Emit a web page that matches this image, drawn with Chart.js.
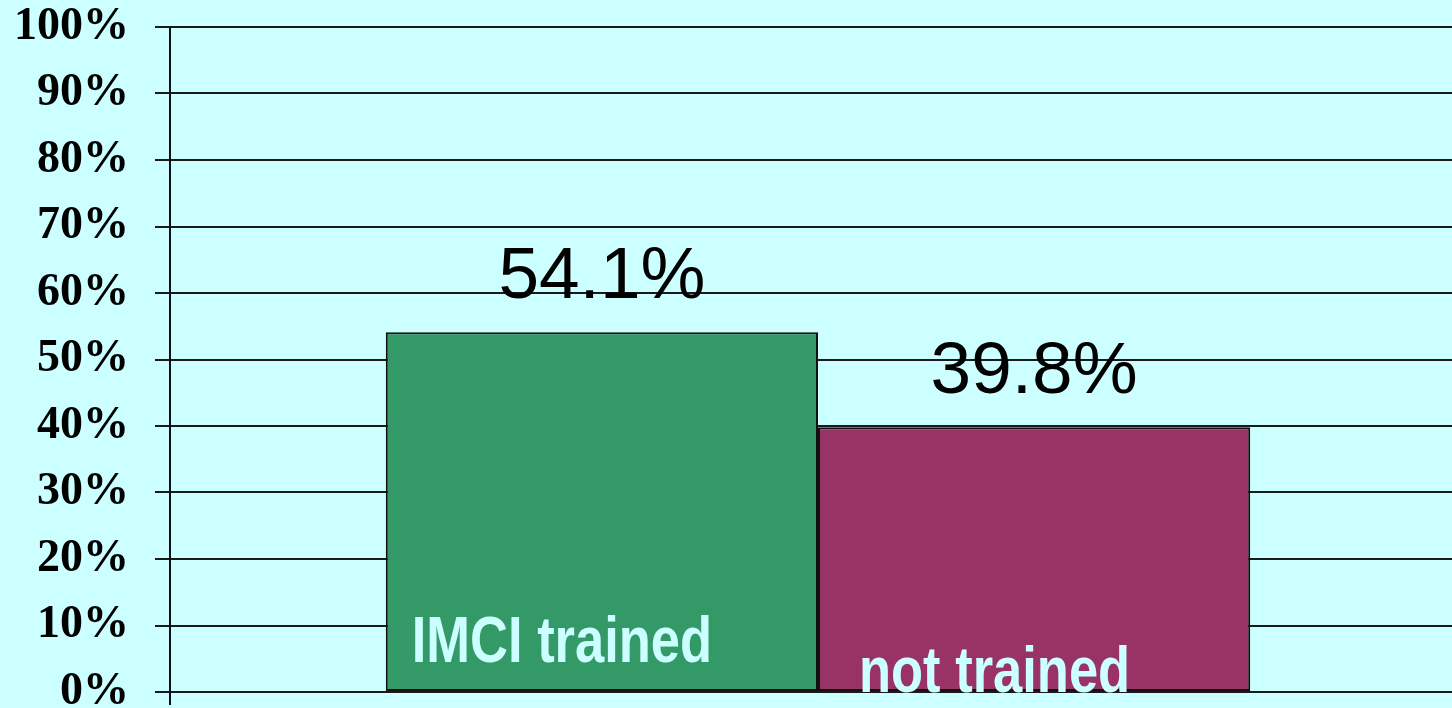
<!DOCTYPE html>
<html>
<head>
<meta charset="utf-8">
<script src="https://cdn.jsdelivr.net/npm/chart.js@4/dist/chart.umd.min.js"></script>
<style>
  html, body { margin: 0; padding: 0; background: #CCFFFF; }
  #wrap { width: 1452px; height: 708px; }
</style>
</head>
<body>
<div id="wrap"><canvas id="imciChart"></canvas></div>
<script>
// data
const categories = [""];
const seriesNames = ["IMCI trained", "not trained"];
const seriesValues = [54.1, 39.8];
const seriesColors = ["#339966", "#993366"];
const tickLabels = ["0%", "10%", "20%", "30%", "40%", "50%", "60%", "70%", "80%", "90%", "100%"];

const datasets = seriesNames.map((name, i) => ({
    label: name,
    data: [seriesValues[i]],
    backgroundColor: seriesColors[i],
    borderColor: "#111111",
    borderWidth: 2,
    borderSkipped: false,
    categoryPercentage: 0.667,
    barPercentage: 1.0,
}));

// value above each bar + the name written inside each bar
const barTextPlugin = {
    id: "barText",
    afterLayout(chart) {
        // the bar group sits a bit right of the plot centre in the original
        const x = chart.scales.x;
        x.right = chart.chartArea.right + 14;
        x.width = x.right - x.left;
        x.configure();
    },
    afterDatasetsDraw(chart) {
        const ctx = chart.ctx;
        const nameOffsets = [26, 41];
        const nameBaselines = [662, 692];
        chart.data.datasets.forEach((ds, i) => {
            const bar = chart.getDatasetMeta(i).data[0];
            const left = bar.x - bar.width / 2;
            ctx.save();
            ctx.fillStyle = "#000000";
            ctx.font = "73px 'Liberation Sans', Arial, sans-serif";
            ctx.textAlign = "center";
            ctx.textBaseline = "alphabetic";
            ctx.fillText(ds.data[0].toFixed(1) + "%", bar.x, bar.y - 34);
            ctx.restore();

            // narrow bold label
            ctx.save();
            ctx.fillStyle = "#CCFFFF";
            ctx.font = "bold 64px 'Liberation Sans', Arial, sans-serif";
            ctx.textAlign = "left";
            ctx.textBaseline = "alphabetic";
            ctx.translate(left + nameOffsets[i], nameBaselines[i]);
            ctx.scale(0.82, 1);
            ctx.fillText(ds.label, 0, 0);
            ctx.restore();
        });
        // axis line runs a little below the baseline
        const area = chart.chartArea;
        ctx.save();
        ctx.strokeStyle = "#111111";
        ctx.lineWidth = 2;
        ctx.beginPath();
        ctx.moveTo(area.left, area.bottom);
        ctx.lineTo(area.left, area.bottom + 13);
        ctx.stroke();
        ctx.restore();
    }
};

const ctx = document.getElementById("imciChart").getContext("2d");
new Chart(ctx, {
    type: "bar",
    data: {
        labels: categories,
        datasets: datasets,
    },
    plugins: [barTextPlugin],
    options: {
        responsive: true,
        maintainAspectRatio: false,
        animation: false,
        layout: {
            padding: { top: 27, bottom: 16, left: 0, right: 0 }
        },
        plugins: {
            legend: { display: false },
            tooltip: { enabled: false },
        },
        scales: {
            x: {
                display: false,
            },
            y: {
                min: 0,
                max: 100,
                afterBuildTicks(scale) {
                    scale.ticks = tickLabels.map((t, i) => ({ value: i * 10 }));
                },
                afterFit(scale) {
                    scale.width = 170;
                    scale.paddingTop = 0;
                    scale.paddingBottom = 0;
                },
                border: { display: true, color: "#111111", width: 2 },
                grid: {
                    color: "#1a1a1a",
                    lineWidth: 2,
                    tickLength: 15,
                    drawTicks: true,
                },
                ticks: {
                    padding: 26,
                    color: "#000000",
                    font: { family: "'Liberation Serif', 'Times New Roman', serif", size: 46, weight: "bold" },
                    callback: (value, index) => tickLabels[index],
                },
            },
        },
    },
});
</script>
</body>
</html>
